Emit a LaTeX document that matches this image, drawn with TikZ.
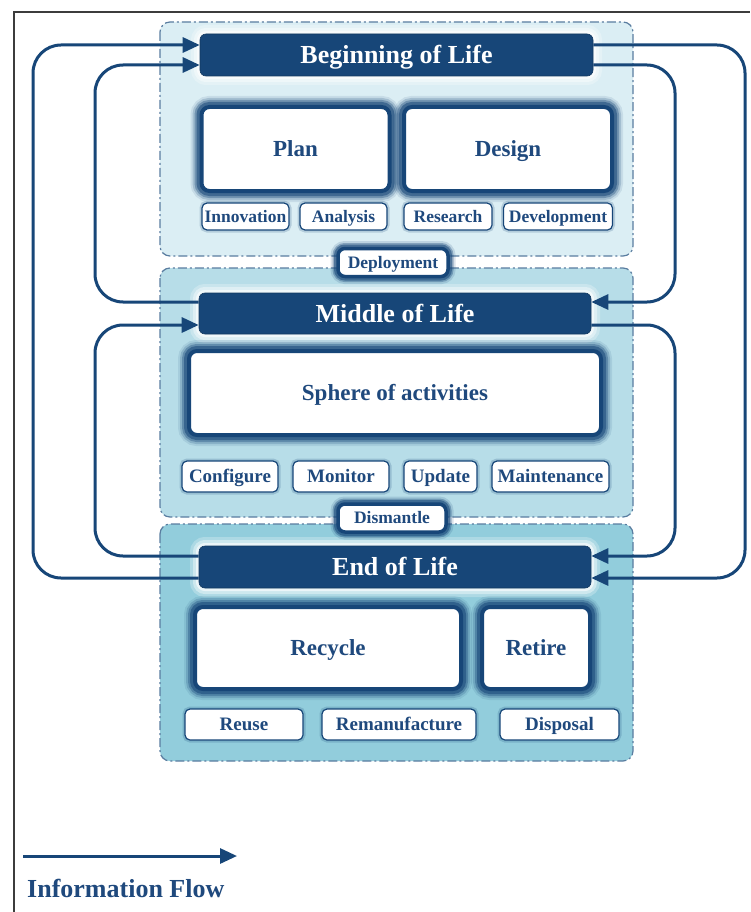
\documentclass[tikz,border=0pt]{standalone}
\usepackage{fontspec}
\setmainfont{Liberation Serif}
\usetikzlibrary{arrows.meta}
\definecolor{dblue}{RGB}{23,70,120}
\definecolor{tblue}{RGB}{31,73,125}
\definecolor{bolfill}{RGB}{219,238,244}
\definecolor{molfill}{RGB}{183,221,232}
\definecolor{eolfill}{RGB}{146,205,220}
\definecolor{dashc}{RGB}{90,125,160}
\definecolor{framec}{RGB}{60,60,60}
\tikzset{
  container/.style={draw=dashc, line width=1.2pt, dash pattern=on 9pt off 3pt on 2pt off 3pt, rounded corners=10pt},
  header/.style={fill=dblue, draw=dblue!80!black, line width=0.6pt, rounded corners=6pt, text=white,
    font=\bfseries\fontsize{26}{28}\selectfont, inner sep=0pt, text height=17.7pt, text depth=0pt,
    preaction={draw=white, line width=18pt, draw opacity=0.25},
    preaction={draw=white, line width=12pt, draw opacity=0.4},
    preaction={draw=white, line width=6pt, draw opacity=0.6}},
  glowbox/.style={fill=white, draw=dblue, line width=4pt, rounded corners=8pt, text=tblue,
    font=\bfseries\fontsize{23}{25}\selectfont, inner sep=0pt, text height=15.6pt, text depth=0pt,
    preaction={draw=dblue, line width=22pt, draw opacity=0.1},
    preaction={draw=dblue, line width=18pt, draw opacity=0.2},
    preaction={draw=dblue, line width=14pt, draw opacity=0.35},
    preaction={draw=dblue, line width=10pt, draw opacity=0.55}},
  linkbox/.style={fill=white, draw=dblue, line width=3.5pt, rounded corners=7pt, text=tblue,
    font=\bfseries\fontsize{17.5}{19}\selectfont, inner sep=0pt, text height=11.9pt, text depth=0pt,
    preaction={draw=dblue, line width=15pt, draw opacity=0.15},
    preaction={draw=dblue, line width=11pt, draw opacity=0.35},
    preaction={draw=dblue, line width=8pt, draw opacity=0.55}},
  smallbox/.style={fill=white, draw=dblue, line width=1.2pt, rounded corners=5pt, text=tblue,
    font=\bfseries\fontsize{19}{21}\selectfont, inner sep=0pt, text height=12.9pt, text depth=0pt,
    preaction={draw=dblue, line width=5pt, draw opacity=0.2}},
  smallbol/.style={smallbox, font=\bfseries\fontsize{17.5}{19}\selectfont, text height=11.9pt},
  flow/.style={draw=dblue, line width=3pt, rounded corners=28pt, -{Triangle[length=17pt,width=15pt]}}
}
\begin{document}
\begin{tikzpicture}[x=1pt,y=-1pt]
\useasboundingbox (0,0) rectangle (750,912);
\fill[white] (0,0) rectangle (750,912);
% frame
\draw[framec, line width=1.2pt] (14,912) -- (14,12) -- (750,12);
% containers
\draw[container, fill=bolfill] (160,22) rectangle (633,256);
\draw[container, fill=molfill] (160,268) rectangle (633,517);
\draw[container, fill=eolfill] (160,524) rectangle (633,761);
% headers
\node[header, minimum width=393pt, minimum height=42pt] (bol) at (396.5,55) {Beginning of Life};
\node[header, minimum width=392pt, minimum height=41pt] (mol) at (395,313.5) {Middle of Life};
\node[header, minimum width=392pt, minimum height=42pt] (eol) at (395,567) {End of Life};
% BOL
\node[glowbox, minimum width=188pt, minimum height=84pt] (plan) at (295.5,149) {Plan};
\node[glowbox, minimum width=208pt, minimum height=84pt] (design) at (508,149) {Design};
\node[smallbol, minimum width=87pt, minimum height=27pt] (innov) at (245.5,216.5) {Innovation};
\node[smallbol, minimum width=87pt, minimum height=27pt] (anal) at (343.5,216.5) {Analysis};
\node[smallbol, minimum width=88pt, minimum height=27pt] (research) at (448,216.5) {Research};
\node[smallbol, minimum width=109pt, minimum height=27pt] (devel) at (558,216.5) {Development};
\node[linkbox, minimum width=110pt, minimum height=28pt] (deploy) at (393,262.5) {Deployment};
% MOL
\node[glowbox, minimum width=412pt, minimum height=84pt] (sphere) at (395,393) {Sphere of activities};
\node[smallbox, minimum width=96pt, minimum height=31pt] (config) at (230,476.5) {Configure};
\node[smallbox, minimum width=96pt, minimum height=31pt] (monitor) at (341,476.5) {Monitor};
\node[smallbox, minimum width=73pt, minimum height=31pt] (update) at (440.5,476.5) {Update};
\node[smallbox, minimum width=117pt, minimum height=31pt] (maint) at (550.5,476.5) {Maintenance};
\node[linkbox, minimum width=108pt, minimum height=28pt] (dismantle) at (392,518) {Dismantle};
% EOL
\node[glowbox, minimum width=266pt, minimum height=82pt] (recycle) at (328,648) {Recycle};
\node[glowbox, minimum width=108pt, minimum height=82pt] (retire) at (536,648) {Retire};
\node[smallbox, minimum width=118pt, minimum height=31pt] (reuse) at (244,724.5) {Reuse};
\node[smallbox, minimum width=154pt, minimum height=31pt] (reman) at (399,724.5) {Remanufacture};
\node[smallbox, minimum width=119pt, minimum height=31pt] (disposal) at (559.5,724.5) {Disposal};
% connector guides
\coordinate (Lo) at (33,300);
\coordinate (Li1) at (95,180);
\coordinate (Li2) at (95,440);
\coordinate (Ri1) at (675,180);
\coordinate (Ri2) at (675,440);
\coordinate (Ro) at (745,300);
% connectors
\draw[flow] ([yshift=-11pt]eol.west) -| (Lo) |- ([yshift=10pt]bol.west);
\draw[flow] ([yshift=11.5pt]mol.west) -| (Li1) |- ([yshift=-10pt]bol.west);
\draw[flow] ([yshift=11pt]eol.west) -| (Li2) |- ([yshift=-11.5pt]mol.west);
\draw[flow] ([yshift=10pt]bol.east) -| (Ro) |- ([yshift=-11pt]eol.east);
\draw[flow] ([yshift=-10pt]bol.east) -| (Ri1) |- ([yshift=11.5pt]mol.east);
\draw[flow] ([yshift=-11.5pt]mol.east) -| (Ri2) |- ([yshift=11pt]eol.east);
% legend
\coordinate (lg1) at (23,856);
\coordinate (lg2) at (237,856);
\draw[flow] (lg1) -- (lg2);
\node[anchor=west, inner sep=0pt, text=tblue, font=\bfseries\fontsize{26}{28}\selectfont] (legend) at (27,888) {Information Flow};
\end{tikzpicture}
\end{document}
